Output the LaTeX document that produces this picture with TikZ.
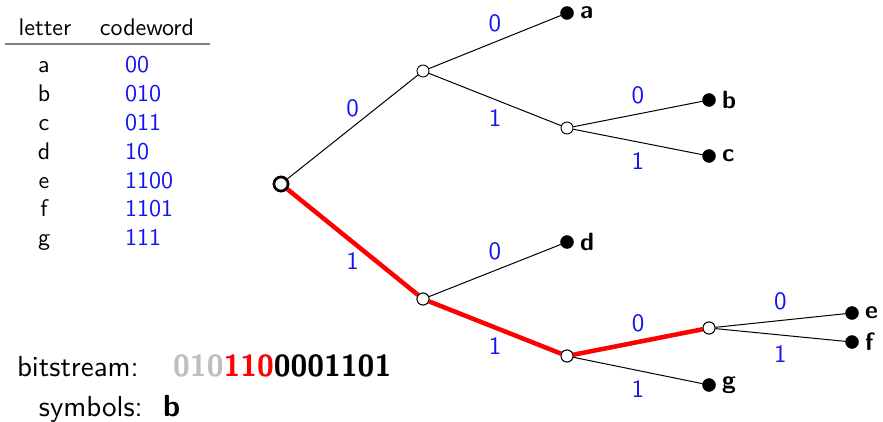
\documentclass[tikz,border=0pt]{standalone}
\usepackage{fontspec}
\setmainfont{lmsans10-regular.otf}[BoldFont=lmsans10-bold.otf]
\usepackage{xcolor}
\usepackage{tikz}
\usetikzlibrary{positioning, calc}
\definecolor{bitblue}{RGB}{20,20,240}
\definecolor{bitgray}{RGB}{190,190,190}
\tikzset{
    inner/.style={
        circle, draw=black, fill=white,
        minimum size=12pt, inner sep=0pt,
        line width=0.9pt,
    },
    rootnode/.style={
        circle, draw=black, fill=white,
        minimum size=14pt, inner sep=0pt,
        line width=2.6pt,
    },
    leaf/.style={
        circle, draw=black, fill=black,
        minimum size=13pt, inner sep=0pt,
        label={[font=\fontsize{25}{29}\selectfont\bfseries, xshift=3pt]right:#1},
    },
    edge/.style={line width=1pt, black},
    hot/.style={line width=4.5pt, red},
    lbl/.style={font=\fontsize{25}{29}\selectfont, text=bitblue, inner sep=0pt},
    zero/.style={lbl, midway, yshift=19pt},
    one/.style={lbl, midway, yshift=-19pt},
    tab/.style={font=\fontsize{24}{28}\selectfont, anchor=base, inner sep=0pt},
    code/.style={tab, anchor=base west, text=bitblue},
    stream/.style={font=\fontsize{29}{33}\selectfont, inner sep=0pt},
}

\begin{document}
\begin{tikzpicture}[x=1pt, y=-1pt]
    \useasboundingbox (0,0) rectangle (883,422);

    % ── Code table ──
    \node[tab] (hletter) at (45,36)  {letter};
    \node[tab] (hcode)   at (147,36) {codeword};
    \draw[gray, line width=1.5pt] (5,44) -- (210,44);
    \foreach \l/\c [count=\i] in {a/00, b/010, c/011, d/10, e/1100, f/1101, g/111} {
        \node[tab]  (let\l)  at (44, 73+28.8*\i-28.8) {\l};
        \node[code] (code\l) at (125,73+28.8*\i-28.8) {\c};
    }

    % ── Tree nodes ──
    \node[rootnode] (root) at (281,184) {};
    \node[inner] (n0)   at (423,71)  {};
    \node[inner] (n01)  at (567,128) {};
    \node[inner] (n1)   at (423,299) {};
    \node[inner] (n11)  at (567,356) {};
    \node[inner] (n110) at (709,328) {};
    \node[leaf=a] (a) at (567,13)  {};
    \node[leaf=b] (b) at (709,100) {};
    \node[leaf=c] (c) at (709,156) {};
    \node[leaf=d] (d) at (567,242) {};
    \node[leaf=e] (e) at (852,313) {};
    \node[leaf=f] (f) at (852,342) {};
    \node[leaf=g] (g) at (709,385) {};

    % ── Edges ──
    \draw[edge] (root) -- node[zero] {0} (n0);
    \draw[hot]  (root) -- node[one]  {1} (n1);
    \draw[edge] (n0)   -- node[zero] {0} (a);
    \draw[edge] (n0)   -- node[one]  {1} (n01);
    \draw[edge] (n01)  -- node[zero] {0} (b);
    \draw[edge] (n01)  -- node[one]  {1} (c);
    \draw[edge] (n1)   -- node[zero] {0} (d);
    \draw[hot]  (n1)   -- node[one]  {1} (n11);
    \draw[hot]  (n11)  -- node[zero] {0} (n110);
    \draw[edge] (n11)  -- node[one]  {1} (g);
    \draw[edge] (n110) -- node[zero] {0} (e);
    \draw[edge] (n110) -- node[one]  {1} (f);

    % redraw nodes on top of the thick edges
    \foreach \n in {n1, n11, n110} \node[inner] at (\n) {};
    \node[rootnode] at (root) {};

    % ── Bitstream ──
    \node[stream, anchor=base east] (bslabel) at (139,376) {bitstream:};
    \node[stream, anchor=base west, font=\fontsize{30.5}{35}\selectfont\bfseries] (bits) at (173,376)
        {\textcolor{bitgray}{010}\textcolor{red}{110}0001101};
    \node[stream, anchor=base east] (symlabel) at (143,416) {symbols:};
    \node[stream, anchor=base west, font=\fontsize{30.5}{35}\selectfont\bfseries] (syms) at (163,416) {b};

\end{tikzpicture}
\end{document}
